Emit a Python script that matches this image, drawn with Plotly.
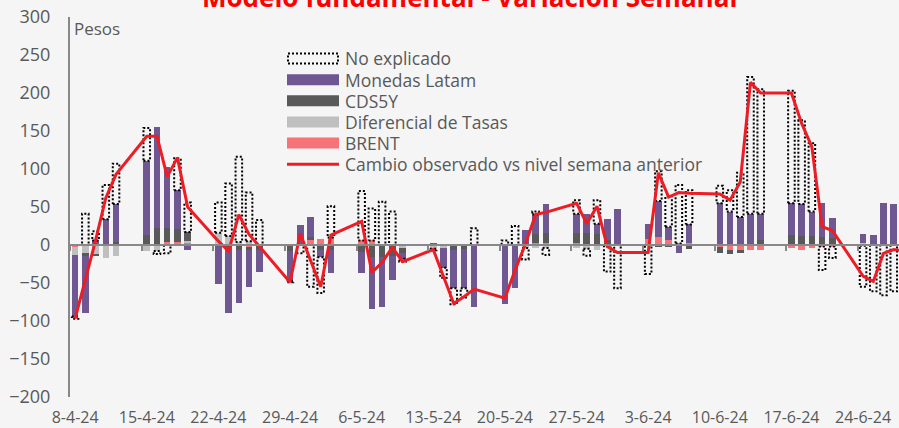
import plotly.graph_objects as go
import pandas as pd

# ---------------- data ----------------
dates = pd.bdate_range("2024-04-08", "2024-06-28")  # weekdays

tick_dates = pd.date_range("2024-04-08", "2024-06-24", freq="7D")
tick_labels = ["8-4-24", "15-4-24", "22-4-24", "29-4-24", "6-5-24", "13-5-24",
               "20-5-24", "27-5-24", "3-6-24", "10-6-24", "17-6-24", "24-6-24"]

brent = [-3, 0, 0, 0, 0,
         0, 0, 4, 4, 3,
         -1, 0, 0, -2, 0,
         -1, 0, 7, 8, 10,
         6, 6, 0, 0, 0,
         0, 0, 0, 0, -1,
         0, 0, 0, 2, 2,
         2, 0, 0, 0, 0,
         8, 11, 7, 2, 2,
         -2, -7, -7, -6, -6,
         -4, -6, -4, -2, -2,
         -1, 0, 0, 0, 0]

dif = [-10, -10, -12, -17, -14,
       -8, -8, 0, 0, 2,
       16, 12, 4, 5, 0,
       0, 0, 0, 0, 0,
       0, 0, 0, 0, -4,
       -5, -4, 0, 0, 0,
       0, 0, -4, -4, -4,
       -4, -5, -7, 0, 0,
       0, 0, 0, 0, 0,
       0, 0, 0, 0, 0,
       0, 0, 0, 0, 0,
       2, 0, 0, 0, 0]

cds = [0, -5, -2, 0, 4,
       13, 22, 19, 17, 12,
       0, -3, -6, -5, -6,
       -7, 0, 3, -7, -7,
       -9, -16, -16, -14, -6,
       0, 0, -7, -5, 0,
       0, 0, 0, 12, 14,
       14, 16, 15, 7, 0,
       0, -2, -3, 0, -5,
       -8, -5, -4, 0, 7,
       13, 12, 12, 10, 9,
       0, 0, 0, 0, 0]

monedas = [-81, -74, 6, 34, 50,
           98, 133, 79, 51, -7,
           -50, -86, -70, -48, -29,
           -39, 26, 27, -9, -30,
           -28, -68, -65, -32, -8,
           2, -26, -50, -52, -80,
           -77, -56, 20, 26, 38,
           25, 25, 13, 27, 47,
           20, 47, 17, -10, 25,
           55, 44, 37, 41, 34,
           42, 42, 32, 45, 27,
           12, 13, 55, 54, 40]

no_explicado = [-3, 41, 12, 45, 53,
                43, -4, -11, 42, 39,
                40, 69, 112, 64, 33,
                -2, -11, -55, -47, 41,
                65, 42, 57, 44, -4,
                -2, -13, -21, -12, 22,
                6, 25, -15, 4, -9,
                18, -9, 31, -35, -57,
                -38, 39, 40, 77, 45,
                23, 28, 58, 180, 164,
                148, 110, 90, -31, -15,
                -54, -61, -66, -61, -48]

cambio = [-97, -46, 6, 62, 93,
          143, 143, 90, 115, 50,
          5, -8, 40, 14, -2,
          -49, 15, -20, -55, 13,
          31, -36, -23, -3, -22,
          -6, -42, -77, -68, -58,
          -70, -33, 1, 40, 43,
          55, 28, 51, -2, -10,
          -10, 95, 63, 69, 68,
          67, 59, 83, 214, 200,
          200, 160, 129, 24, 19,
          -41, -48, -11, -6, -8]

# ---------------- style ----------------
FONT = "Open Sans, Noto Sans, sans-serif"
TXT = "#595959"
BG = "#F5F5F5"
C_BRENT = "#F7737A"
C_DIF = "#BFBFBF"
C_CDS = "#595959"
C_MON = "#6F5792"
C_LINE = "#EE1C25"
AX = "#888888"

DAY_MS = 86400000
BAR_W = 0.64 * DAY_MS

fig = go.Figure()

for name, vals, col in [("BRENT", brent, C_BRENT),
                        ("Diferencial de Tasas", dif, C_DIF),
                        ("CDS5Y", cds, C_CDS),
                        ("Monedas Latam", monedas, C_MON)]:
    fig.add_trace(go.Bar(x=dates, y=vals, name=name, width=BAR_W,
                         marker=dict(color=col, line=dict(width=0)),
                         showlegend=False))

# dotted outline for "No explicado", stacked on top of the other components
half = pd.Timedelta(milliseconds=BAR_W / 2)
xs, ys = [], []
for i, d in enumerate(dates):
    comps = [brent[i], dif[i], cds[i], monedas[i]]
    v = no_explicado[i]
    if v == 0:
        continue
    base = sum(c for c in comps if c > 0) if v > 0 else sum(c for c in comps if c < 0)
    top = base + v
    x0, x1 = d - half, d + half
    xs += [x0, x1, x1, x0, x0, None]
    ys += [base, base, top, top, base, None]
fig.add_trace(go.Scatter(x=xs, y=ys, mode="lines", name="No explicado",
                         line=dict(color="#000000", width=2, dash="2px,2px"),
                         showlegend=False, hoverinfo="skip"))

fig.add_trace(go.Scatter(x=dates, y=cambio, mode="lines",
                         name="Cambio observado vs nivel semana anterior",
                         line=dict(color=C_LINE, width=3), showlegend=False))

# helper trace for the zero-axis with its ticks
fig.add_trace(go.Scatter(x=[dates[0]], y=[None], xaxis="x2", showlegend=False,
                         hoverinfo="skip"))

x_range = [pd.Timestamp("2024-04-07 12:00"), pd.Timestamp("2024-06-27 12:20")]

W, H = 899, 428
ML, MR, MT, MB = 70, 0, 17, 31
PW, PH = W - ML - MR, H - MT - MB


def px(xp):
    return (xp - ML) / PW


def py(yp):
    return (H - MB - yp) / PH


fig.update_layout(
    width=W, height=H,
    margin=dict(l=ML, r=MR, t=MT, b=MB, autoexpand=False),
    paper_bgcolor=BG, plot_bgcolor=BG,
    barmode="relative", bargap=0,
    font=dict(family=FONT, color=TXT),
    showlegend=False,
    xaxis=dict(type="date", range=x_range, tickvals=tick_dates, ticktext=tick_labels,
               showgrid=False, zeroline=False, showline=False, ticks="", automargin=False,
               tickfont=dict(size=16, color=TXT), ticklabelstandoff=9),
    xaxis2=dict(type="date", overlaying="x", matches="x", anchor="free", position=0.4,
                side="bottom", showgrid=False, zeroline=False, showline=True,
                linecolor=AX, linewidth=2, ticks="outside", ticklen=5, tickwidth=1.5,
                tickcolor=AX, showticklabels=False, layer="above traces", automargin=False,
                tickvals=tick_dates - pd.Timedelta(hours=12)),
    yaxis=dict(range=[-200, 300], tickvals=list(range(-200, 301, 50)), automargin=False,
               showgrid=False, zeroline=False, showline=True, linecolor=AX, linewidth=2,
               ticks="", tickfont=dict(size=18, color=TXT), ticklabelstandoff=14),
)

# title (partly outside the top of the picture)
fig.add_annotation(text="<b>Modelo fundamental - Variación Semanal</b>", xref="paper", yref="paper",
                   x=px(469), y=py(-3), xanchor="center", yanchor="middle", showarrow=False,
                   font=dict(size=26, color="#FF0000", family=FONT))

fig.add_annotation(text="Pesos", xref="paper", yref="paper", x=px(72), y=py(29),
                   xanchor="left", yanchor="middle", showarrow=False,
                   font=dict(size=17, color=TXT))

# legend
legend_items = [("No explicado", "dot"), ("Monedas Latam", C_MON), ("CDS5Y", C_CDS),
                ("Diferencial de Tasas", C_DIF), ("BRENT", C_BRENT),
                ("Cambio observado vs nivel semana anterior", "line")]
for k, (label, kind) in enumerate(legend_items):
    yc = 58.5 + 21.15 * k
    if kind == "dot":
        fig.add_shape(type="rect", xref="paper", yref="paper", x0=px(288), x1=px(338),
                      y0=py(yc + 5), y1=py(yc - 5),
                      line=dict(color="#000000", width=2, dash="2px,2px"),
                      fillcolor="rgba(0,0,0,0)")
    elif kind == "line":
        fig.add_shape(type="line", xref="paper", yref="paper", x0=px(287), x1=px(339),
                      y0=py(yc), y1=py(yc), line=dict(color=C_LINE, width=3))
    else:
        fig.add_shape(type="rect", xref="paper", yref="paper", x0=px(287), x1=px(339),
                      y0=py(yc + 5.5), y1=py(yc - 5.5), line=dict(width=0), fillcolor=kind)
    fig.add_annotation(text=label, xref="paper", yref="paper", x=px(343), y=py(yc),
                       xanchor="left", yanchor="middle", showarrow=False,
                       font=dict(size=17.5, color=TXT))

fig.write_html("out.html", config={"displayModeBar": False},
               post_script="document.body.style.margin='0px';document.body.style.overflow='hidden';")
